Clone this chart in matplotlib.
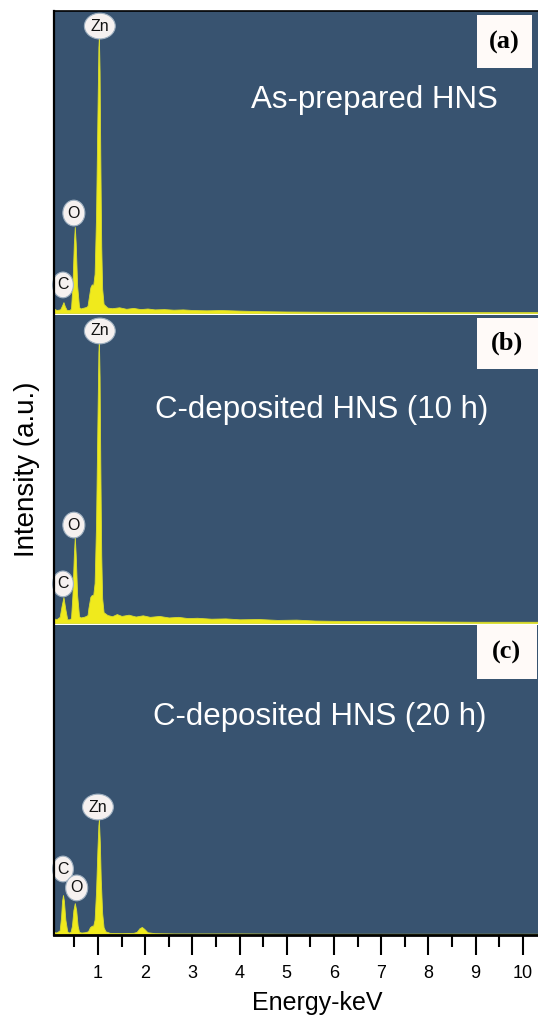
import matplotlib
matplotlib.use("Agg")
import matplotlib.pyplot as plt
from matplotlib.patches import Rectangle
from matplotlib.lines import Line2D

plt.rcParams['font.family'] = ['Liberation Sans', 'DejaVu Sans']
plt.rcParams['xtick.direction'] = 'out'
plt.rcParams['xtick.major.size'] = 14.4
plt.rcParams['xtick.major.width'] = 1.5
plt.rcParams['xtick.major.pad'] = 7
plt.rcParams['xtick.minor.size'] = 8.6
plt.rcParams['xtick.minor.width'] = 1.5
plt.rcParams['xtick.labelsize'] = 13

BG = '#385370'
YELLOW = '#f0ea1c'

# EDS spectra, intensity in % of panel height
energy_a = [0.07, 0.12, 0.20, 0.24, 0.27, 0.30, 0.34, 0.40, 0.43, 0.46, 0.49, 0.51,
            0.53, 0.56, 0.60, 0.63, 0.70, 0.75, 0.78, 0.80, 0.84, 0.87, 0.90, 0.93,
            0.96, 0.99, 1.01, 1.02, 1.035, 1.05, 1.07, 1.09, 1.12, 1.20, 1.30, 1.45,
            1.60, 1.75, 1.90, 2.05, 2.20, 2.40, 2.60, 2.80, 3.00, 3.30, 3.60, 4.00,
            4.50, 5.00, 6.00, 7.00, 8.00, 9.00, 10.32]
counts_a = [1.5, 1.0, 1.2, 2.5, 3.6, 2.2, 1.0, 1.0, 1.5, 9.0, 23.0, 28.5,
            23.0, 9.0, 2.0, 1.5, 1.8, 2.0, 2.4, 4.5, 8.5, 9.5, 9.2, 13.0,
            32.0, 66.0, 88.0, 91.4, 80.0, 52.0, 22.0, 8.0, 3.0, 1.8, 1.6, 1.9,
            1.4, 1.7, 1.3, 1.5, 1.2, 1.3, 1.1, 1.2, 1.0, 0.9, 1.0, 0.8,
            0.6, 0.5, 0.4, 0.4, 0.3, 0.3, 0.3]

energy_b = [0.07, 0.12, 0.19, 0.23, 0.27, 0.31, 0.35, 0.40, 0.43, 0.46, 0.49, 0.51,
            0.53, 0.56, 0.60, 0.63, 0.70, 0.75, 0.78, 0.80, 0.84, 0.87, 0.90, 0.93,
            0.96, 0.99, 1.01, 1.02, 1.035, 1.05, 1.07, 1.09, 1.12, 1.20, 1.30, 1.40,
            1.50, 1.65, 1.80, 1.95, 2.10, 2.30, 2.50, 2.70, 2.90, 3.10, 3.40, 3.70,
            4.00, 4.40, 4.80, 5.20, 5.60, 6.00, 7.00, 8.00, 9.00, 10.32]
counts_b = [1.5, 1.2, 2.0, 5.5, 8.4, 4.5, 1.2, 1.2, 1.6, 9.0, 22.0, 27.9,
            22.0, 9.0, 2.2, 1.8, 2.0, 2.3, 2.6, 5.0, 8.5, 9.1, 9.0, 13.0,
            32.0, 66.0, 88.0, 91.9, 80.0, 52.0, 22.0, 8.0, 3.5, 2.6, 2.2, 2.9,
            2.3, 2.7, 2.1, 2.5, 2.0, 2.3, 1.8, 2.0, 1.6, 1.7, 1.4, 1.5,
            1.2, 1.3, 1.0, 1.1, 0.8, 0.7, 0.6, 0.5, 0.4, 0.4]

energy_c = [0.07, 0.12, 0.19, 0.22, 0.24, 0.26, 0.28, 0.31, 0.35, 0.38, 0.42, 0.45,
            0.48, 0.51, 0.54, 0.57, 0.60, 0.65, 0.72, 0.79, 0.83, 0.87, 0.90, 0.93,
            0.96, 0.99, 1.01, 1.02, 1.04, 1.06, 1.09, 1.12, 1.16, 1.25, 1.50, 1.75,
            1.82, 1.88, 1.93, 1.98, 2.05, 2.20, 2.60, 3.00, 4.00, 5.00, 6.00, 8.00,
            10.32]
counts_c = [1.0, 0.8, 1.5, 6.0, 11.0, 12.9, 11.0, 5.0, 1.2, 0.8, 1.0, 3.0,
            8.0, 10.3, 8.0, 3.0, 1.0, 0.8, 0.9, 1.2, 2.5, 3.0, 3.0, 5.0,
            14.0, 28.0, 35.5, 37.1, 30.0, 18.0, 7.0, 2.5, 1.2, 0.7, 0.6, 0.7,
            1.0, 2.2, 2.6, 2.0, 0.9, 0.6, 0.5, 0.5, 0.5, 0.4, 0.4, 0.4,
            0.4]

# element markers: (symbol, energy, height)
labels_a = [('Zn', 1.04, 95.0), ('O', 0.49, 33.1), ('C', 0.26, 9.3)]
labels_b = [('Zn', 1.04, 94.8), ('O', 0.49, 31.8), ('C', 0.26, 12.7)]
labels_c = [('Zn', 1.00, 41.3), ('C', 0.26, 21.3), ('O', 0.55, 15.2)]

titles = ['As-prepared HNS', 'C-deposited HNS (10 h)', 'C-deposited HNS (20 h)']
tags = ['(a)', '(b)', '(c)']
title_pos = [(0.661, 0.705), (0.554, 0.692), (0.550, 0.703)]
tag_box = [(0.874, 0.811, 0.114, 0.176), (0.874, 0.825, 0.126, 0.165),
           (0.874, 0.826, 0.124, 0.174)]
tag_pos = [(0.930, 0.897), (0.936, 0.909), (0.934, 0.913)]

major_ticks = [1, 2, 3, 4, 5, 6, 7, 8, 9, 10]
minor_ticks = [0.5, 1.5, 2.5, 3.5, 4.5, 5.5, 6.5, 7.5, 8.5, 9.5]

x_min, x_max = 0.07, 10.32

fig = plt.figure(figsize=(5.38, 10.17), dpi=100)
rects = [[0.1004, 0.6922, 0.8996, 0.2970],
         [0.1004, 0.3874, 0.8996, 0.3029],
         [0.1004, 0.0806, 0.8996, 0.3048]]
spectra = [(energy_a, counts_a, labels_a),
           (energy_b, counts_b, labels_b),
           (energy_c, counts_c, labels_c)]

axes = []
for i, (r, (en, ct, lab)) in enumerate(zip(rects, spectra)):
    ax = fig.add_axes(r)
    ax.set_facecolor(BG)
    ax.fill_between(en, 0, ct, color=YELLOW, lw=0.6, edgecolor='#d8dc30')
    ax.set_xlim(x_min, x_max)
    ax.set_ylim(0, 100)
    for s in ax.spines.values():
        s.set_visible(False)
    ax.set_yticks([])

    for sym, e, h in lab:
        ax.text(e, h, sym, ha='center', va='center', fontsize=11.5, color='#111111',
                bbox=dict(boxstyle='ellipse,pad=0.1', fc='#f6f1f0', ec='#9fb0c0', lw=0.8),
                zorder=5)

    ax.text(*title_pos[i], titles[i], transform=ax.transAxes, ha='center',
            va='center', fontsize=22.5, color='white')
    bx, by, bw, bh = tag_box[i]
    ax.add_patch(Rectangle((bx, by), bw, bh, transform=ax.transAxes,
                           fc='#fffaf8', ec='none', zorder=6))
    ax.text(*tag_pos[i], tags[i], transform=ax.transAxes, ha='center', va='center',
            fontsize=19, fontweight='bold', family='Liberation Serif', zorder=7)
    axes.append(ax)

ax_a, ax_b, ax_c = axes
ax_a.set_xticks([])
ax_b.set_xticks([])
ax_a.spines['top'].set_visible(True)
ax_a.spines['top'].set_linewidth(1.2)

ax_c.spines['bottom'].set_visible(True)
ax_c.spines['bottom'].set_linewidth(2.0)
ax_c.set_xticks(major_ticks)
ax_c.set_xticks(minor_ticks, minor=True)
ax_c.set_xticklabels([str(t) for t in major_ticks])

# left frame line running through all three panels
fig.add_artist(Line2D([0.1004, 0.1004], [0.0806, 0.9892], color='black', lw=1.6,
                      transform=fig.transFigure))

fig.text(0.050, 1 - 469 / 1017, 'Intensity (a.u.)', rotation=90, ha='center',
         va='center', fontsize=20)
fig.text(0.589, 0.0069, 'Energy-keV', ha='center', va='baseline', fontsize=18)

fig.savefig('out.png', dpi=100)
